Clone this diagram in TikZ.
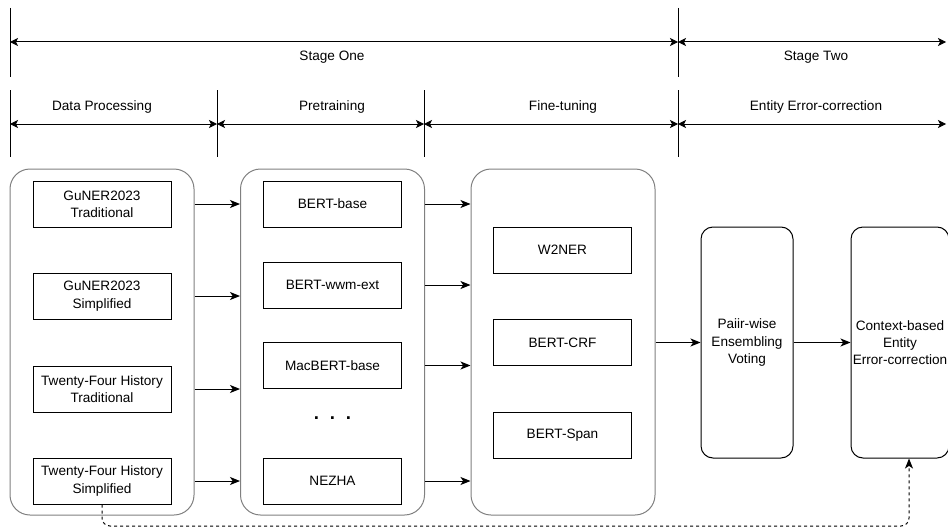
\documentclass[tikz,border=0pt]{standalone}
\usepackage{fontspec}
\setmainfont{Liberation Sans}
\usetikzlibrary{arrows.meta}

\tikzset{every picture/.style={line width=0.75pt}}
\tikzset{
  panel/.style={draw={rgb, 255:red, 128; green, 128; blue, 128 }, rounded corners=15pt, minimum width=138pt, minimum height=259.5pt, inner sep=0pt},
  databox/.style={draw, minimum width=103.5pt, minimum height=34.5pt, inner sep=0pt, align=center},
  stagebox/.style={draw, rounded corners=9pt, minimum height=173.25pt, inner sep=0pt, align=center},
  flow/.style={-{Stealth[length=7.5pt,width=6pt,inset=2pt]}},
  stagearrow/.style={{Stealth[length=6pt,width=6pt,inset=1.5pt]}-{Stealth[length=6pt,width=6pt,inset=1.5pt]}},
  feedback/.style={-{Stealth[length=7.5pt,width=6pt,inset=2pt]}, dash pattern=on 2.25pt off 2.25pt, rounded corners=6pt},
  txt/.style={inner sep=0.75pt}
}

\begin{document}
\begin{tikzpicture}[x=0.75pt,y=0.75pt,yscale=-1,xscale=1, every node/.style={font=\fontsize{10.2}{13}\selectfont}]
\useasboundingbox (0,0) rectangle (948,528);

%Stage borders
\coordinate (t0) at (10,42);
\coordinate (t1) at (678,42);
\coordinate (t2) at (946,42);
\coordinate (p0) at (10,124);
\coordinate (p1) at (217,124);
\coordinate (p2) at (424,124);
\coordinate (p3) at (678,124);
\coordinate (p4) at (946,124);

%Straight Lines (ticks)
\draw (t0) ++(0,-34) -- ++(0,69);
\draw (t1) ++(0,-34) -- ++(0,69);
\draw (p0) ++(0,-34) -- ++(0,67);
\draw (p1) ++(0,-34) -- ++(0,67);
\draw (p2) ++(0,-34) -- ++(0,67);
\draw (p3) ++(0,-34) -- ++(0,67);

%Double arrows
\draw[stagearrow] (t0) -- (t1);
\draw[stagearrow] (t1) -- (t2);
\draw[stagearrow] (p0) -- (p1);
\draw[stagearrow] (p1) -- (p2);
\draw[stagearrow] (p2) -- (p3);
\draw[stagearrow] (p3) -- (p4);

% Text Node
\node[txt] (one) at (332,57) {Stage One};
% Text Node
\node[txt] (two) at (816,57) {Stage Two};
% Text Node
\node[txt] (lproc) at (102,107) {Data Processing};
% Text Node
\node[txt] (lpre) at (332,107) {Pretraining};
% Text Node
\node[txt] (lfine) at (563,107) {Fine-tuning};
% Text Node
\node[txt] (lcorr) at (816,107) {Entity Error-correction};

%Shape: Rounded Rect
\node[panel] (data) at (102,342) {};
%Shape: Rounded Rect
\node[panel] (pre) at (332.5,342) {};
%Shape: Rounded Rect
\node[panel] (fine) at (563,342) {};

%Shape: Rectangle
\node[databox] (d1) at (102,204) {GuNER2023\\Traditional};
\node[databox] (d2) at (102,296) {GuNER2023\\Simplified};
\node[databox] (d3) at (102,389) {Twenty-Four History\\Traditional};
\node[databox] (d4) at (102,481) {Twenty-Four History\\Simplified};

%Shape: Rectangle
\node[databox] (m1) at (332.5,204) {BERT-base};
\node[databox] (m2) at (332.5,285) {BERT-wwm-ext};
\node[databox] (m3) at (332.5,365.5) {MacBERT-base};
\node[inner sep=0pt, font=\fontsize{14}{14}\bfseries\selectfont] (dots) at (332.5,418) {.\hspace{8.1pt}.\hspace{8.1pt}.};
\node[databox] (m4) at (332.5,481) {NEZHA};

%Shape: Rectangle
\node[databox] (f1) at (562.5,250) {W2NER};
\node[databox] (f2) at (562.5,342.5) {BERT-CRF};
\node[databox] (f3) at (562.5,435) {BERT-Span};

%Shape: Rounded Rect
\node[stagebox, minimum width=69pt] (vote) at (747,342.5) {Paiir-wise\\Ensembling\\Voting};
%Shape: Rounded Rect
\node[stagebox, minimum width=73.5pt] (ctx) at (900,342.5) {Context-based\\Entity\\Error-correction};

%Straight Lines [data -> pretraining]
\draw[flow] (data.east |- d1) -- (pre.west |- d1);
\draw[flow] (data.east |- d2) -- (pre.west |- d2);
\draw[flow] (data.east |- d3) -- (pre.west |- d3);
\draw[flow] (data.east |- d4) -- (pre.west |- d4);
%Straight Lines [pretraining -> fine-tuning]
\draw[flow] (pre.east |- m1) -- (fine.west |- m1);
\draw[flow] (pre.east |- m2) -- (fine.west |- m2);
\draw[flow] (pre.east |- m3) -- (fine.west |- m3);
\draw[flow] (pre.east |- m4) -- (fine.west |- m4);
%Straight Lines [fine-tuning -> voting -> correction]
\draw[flow] (fine.east |- vote) -- (vote);
\draw[flow] (vote) -- (ctx);

%Dashed feedback line
\coordinate (back) at (909,526);
\draw[feedback] (d4.south) |- (back) -- (back |- ctx.south);

\end{tikzpicture}
\end{document}
